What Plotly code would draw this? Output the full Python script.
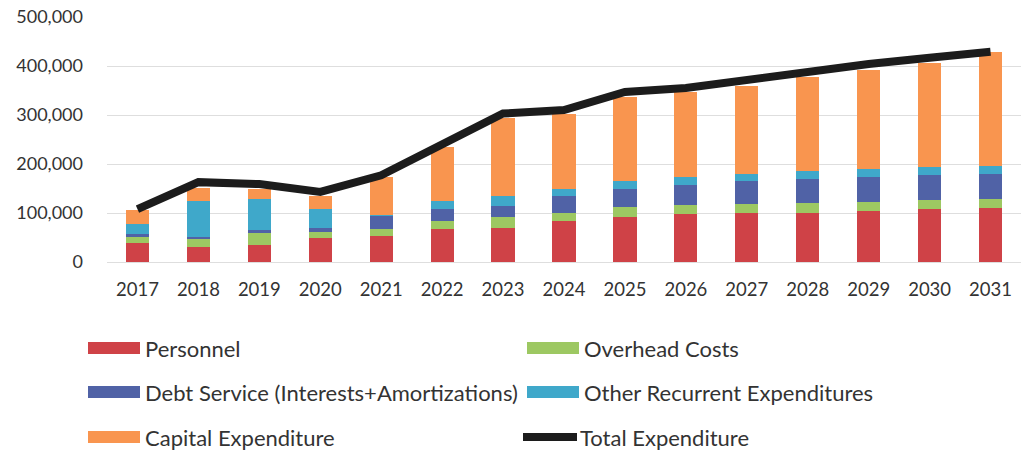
import plotly.graph_objects as go

# Expenditure by year (currency units)
years = [str(y) for y in range(2017, 2032)]
personnel = [39000, 31000, 34000, 50000, 53000, 67000, 70000, 84000, 92000,
             97000, 99000, 101000, 104000, 109000, 110000]
overhead = [12000, 16000, 25000, 12000, 14000, 17000, 21000, 15000, 20000,
            19000, 20000, 19000, 18000, 18000, 18000]
debt_service = [6000, 4000, 7000, 7000, 27000, 24000, 23000, 35000, 38000,
                41000, 46000, 50000, 52000, 50000, 51000]
other_recurrent = [21000, 74000, 63000, 39000, 1000, 16000, 21000, 14000, 16000,
                   17000, 15000, 16000, 16000, 16000, 16000]
capital = [29000, 27000, 19000, 27000, 78000, 110000, 158000, 155000, 171000,
           173000, 180000, 192000, 202000, 214000, 233000]
total_expenditure = [108000, 163000, 159000, 143000, 177000, 238000, 303000, 310000,
                     347000, 355000, 372000, 388000, 404000, 417000, 429000]

y_ticks = [0, 100000, 200000, 300000, 400000, 500000]

FONT = "Lato"
TEXT_COLOR = "#333333"

series = [
    ("Personnel", personnel, "#CF4247"),
    ("Overhead Costs", overhead, "#9DC862"),
    ("Debt Service (Interests+Amortizations)", debt_service, "#5062A6"),
    ("Other Recurrent Expenditures", other_recurrent, "#3FA8CA"),
    ("Capital Expenditure", capital, "#F9954F"),
]
line_name, line_color = "Total Expenditure", "#1c1c1c"

fig = go.Figure()
for name, values, color in series:
    fig.add_trace(go.Bar(x=years, y=values, name=name, marker_color=color,
                         marker_line_width=0, showlegend=False))
fig.add_trace(go.Scatter(x=years, y=total_expenditure, name=line_name, mode="lines",
                         line=dict(color=line_color, width=8), showlegend=False))

# Plot-area geometry in pixels
W, H = 1021, 454
L, R, T, B = 107, 0, 17, 192
pw, ph = W - L - R, H - T - B


def px(x):
    return (x - L) / pw


def py(y):
    return (H - B - y) / ph


# Custom legend: two columns, three rows, with wide swatches
shapes, annotations = [], []
legend_items = [(n, c, "bar") for n, _, c in series] + [(line_name, line_color, "line")]
slots = [(88, 348), (527, 348), (88, 392), (527, 392), (88, 437), (527, 437)]
for (name, color, kind), (sx, sy) in zip(legend_items, slots):
    if kind == "bar":
        shapes.append(dict(type="rect", xref="paper", yref="paper",
                           x0=px(sx), x1=px(sx + 52), y0=py(sy + 6), y1=py(sy - 6),
                           fillcolor=color, line_width=0))
    else:
        shapes.append(dict(type="line", xref="paper", yref="paper",
                           x0=px(sx - 4), x1=px(sx + 50), y0=py(sy), y1=py(sy),
                           line=dict(color=color, width=8)))
    annotations.append(dict(text=name, xref="paper", yref="paper",
                            x=px(sx + 55 if kind == "bar" else sx + 51), y=py(sy),
                            xanchor="left", yanchor="middle", showarrow=False,
                            font=dict(family=FONT, size=22, color=TEXT_COLOR)))

fig.update_layout(
    width=W, height=H,
    margin=dict(l=L, r=R, t=T, b=B, pad=0),
    barmode="stack", bargap=0.62,
    plot_bgcolor="white", paper_bgcolor="white",
    font=dict(family=FONT, size=18, color=TEXT_COLOR),
    shapes=shapes, annotations=annotations,
    showlegend=False,
)
fig.update_xaxes(showline=False, showgrid=False, ticks="", ticklabelstandoff=14,
                 tickfont=dict(family=FONT, size=18.5, color=TEXT_COLOR))
fig.update_yaxes(range=[0, 500000], tickvals=y_ticks, tickformat=",d",
                 showgrid=True, gridcolor="#dedede", gridwidth=1,
                 zeroline=True, zerolinecolor="#dedede", zerolinewidth=1,
                 showline=False, ticks="", ticklabelstandoff=23,
                 tickfont=dict(family=FONT, size=18, color=TEXT_COLOR))

fig.write_html("out.html")
